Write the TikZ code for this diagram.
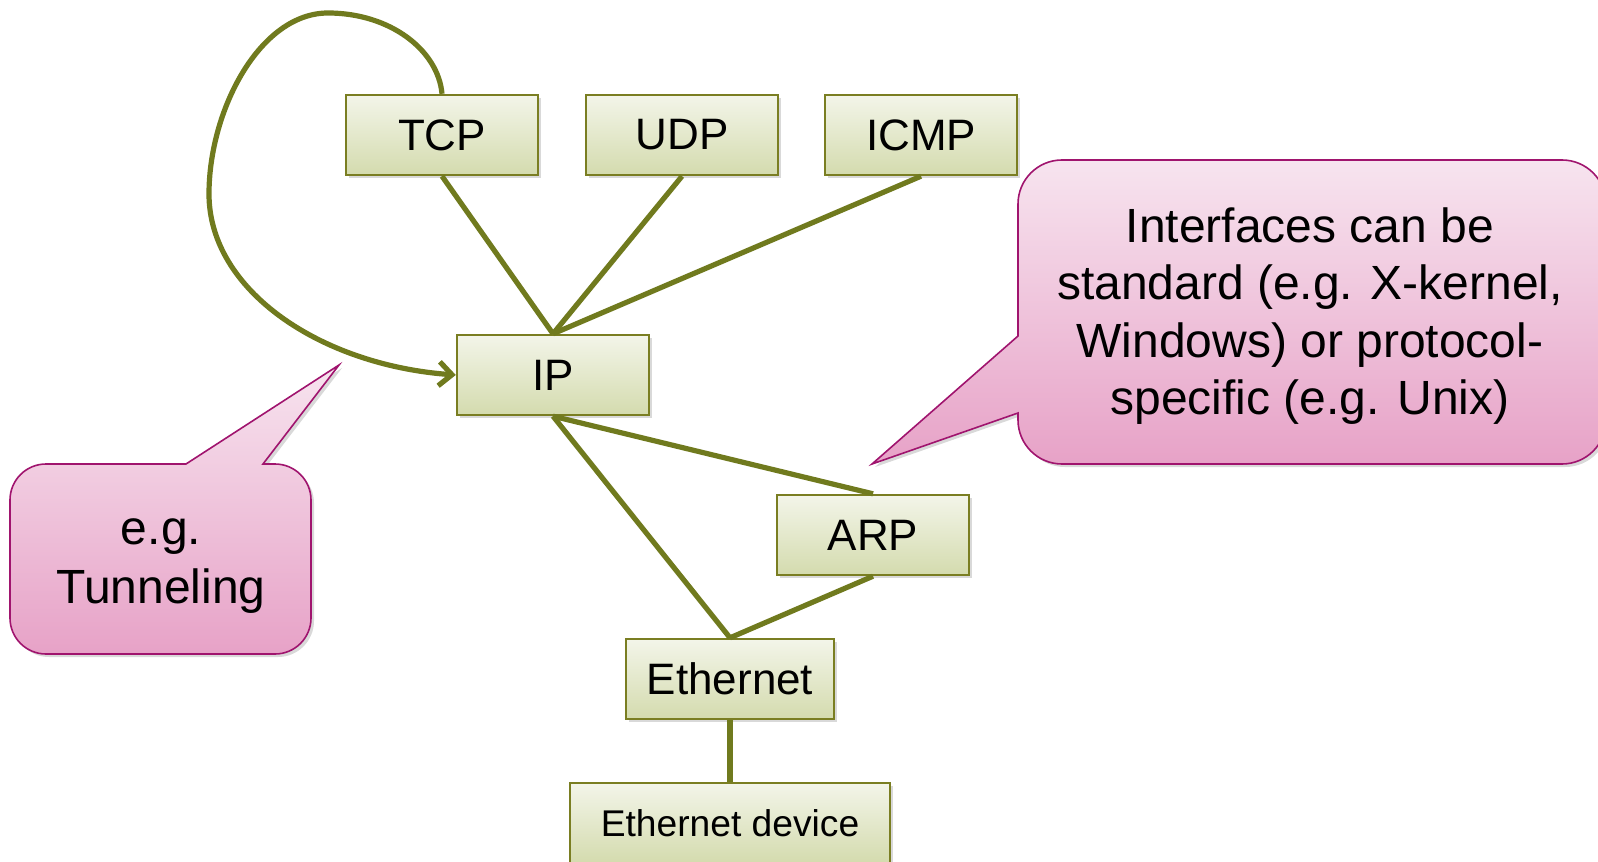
\documentclass[tikz,border=0pt]{standalone}
\usepackage{fontspec}
\setmainfont{Liberation Sans}
\usetikzlibrary{arrows.meta,shadows}
\definecolor{linkcol}{RGB}{112,122,30}
\definecolor{boxedge}{RGB}{122,126,34}
\definecolor{boxtop}{RGB}{243,245,233}
\definecolor{boxbot}{RGB}{212,219,174}
\definecolor{calledge}{RGB}{160,20,110}
\definecolor{calltop}{RGB}{247,228,239}
\definecolor{callbot}{RGB}{231,162,199}

\begin{document}
\begin{tikzpicture}[x=0.5pt,y=-0.5pt,
    box/.style={draw=boxedge,line width=1.2pt,top color=boxtop,bottom color=boxbot,
      minimum width=96pt,minimum height=40pt,inner sep=0pt,
      font=\fontsize{22}{26}\selectfont,
      drop shadow={shadow xshift=1.5pt,shadow yshift=-1.5pt,opacity=0.3}},
    link/.style={draw=linkcol,line width=2.6pt},
    callout/.style={draw=calledge,line width=0.8pt,top color=calltop,bottom color=callbot,
      drop shadow={shadow xshift=1.5pt,shadow yshift=-1.5pt,opacity=0.3}}]
  \useasboundingbox (0,0) rectangle (1598,861);

  % callouts
  \draw[callout] (10,560) [rounded corners=18pt] -- (10,464) [sharp corners] -- (186,464) -- (339,365) -- (263,464) [rounded corners=18pt] -- (311,464) -- (311,654) -- (10,654) -- cycle;
  \draw[callout] (1310,160) [rounded corners=22pt] -- (1606,160) -- (1606,464) -- (1018,464) [sharp corners] -- (1018,413) -- (872,464) -- (1018,336) [rounded corners=22pt] -- (1018,160) -- cycle;
  \node[align=center,font=\fontsize{24}{29.5}\selectfont] (tunnel) at (161,566) {e.g.\\Tunneling};
  \node[align=center,font=\fontsize{24}{28.8}\selectfont] (note) at (1310,316) {Interfaces can be\\standard (e.g. X-kernel,\\Windows) or protocol-\\specific (e.g. Unix)};

  % protocol graph
  \node[box] (tcp) at (442,135) {TCP};
  \node[box] (udp) at (682,135) {UDP};
  \node[box] (icmp) at (921,135) {ICMP};
  \node[box] (ip) at (553,375) {IP};
  \node[box] (arp) at (873,535) {ARP};
  \node[box,minimum width=104pt] (eth) at (730,679) {Ethernet};
  \node[box,minimum width=160pt,font=\fontsize{18.6}{22}\selectfont] (dev) at (730,823) {Ethernet device};

  \draw[link] (tcp.south) -- (ip.north);
  \draw[link] (udp.south) -- (ip.north);
  \draw[link] (icmp.south) -- (ip.north);
  \draw[link] (ip.south) -- (arp.north);
  \draw[link] (ip.south) -- (eth.north);
  \draw[link] (arp.south) -- (eth.north);
  \draw[link] (eth.south) -- (dev.north);

  % tunneling loop
  \draw[link,-{Straight Barb[length=6.5pt,width=12pt]}] (tcp.north) .. controls (438,50) and (390,13) .. (328,13)
    .. controls (260,13) and (209,110) .. (209,194)
    .. controls (209,290) and (320,365) .. (ip.west);
\end{tikzpicture}
\end{document}
